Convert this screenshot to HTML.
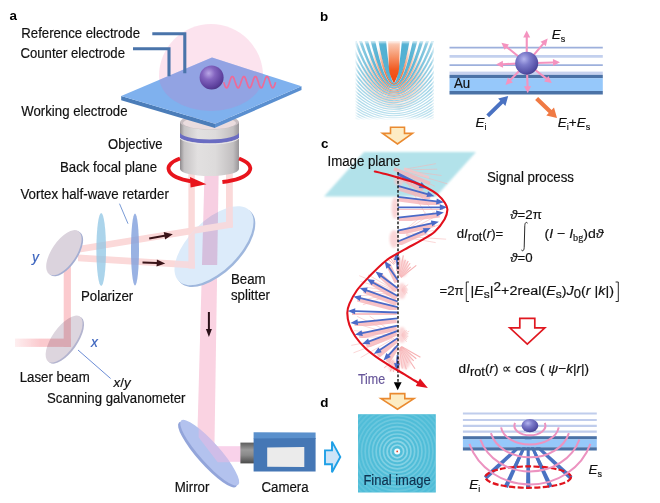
<!DOCTYPE html>
<html><head><meta charset="utf-8"><title>Figure</title>
<style>html,body{margin:0;padding:0;background:#fff;overflow:hidden}svg{display:block}
text{font-family:"Liberation Sans",sans-serif;font-size:13.8px;fill:#111;stroke:#111;stroke-width:0.18px}
.eq{font-size:13.25px}.i{font-style:italic}.b{font-weight:bold;font-size:13.4px;fill:#000;stroke:none}
.mul{mix-blend-mode:multiply}
</style></head><body>
<svg width="660" height="503" viewBox="0 0 660 503">
<defs>
<radialGradient id="sph" cx="0.38" cy="0.32" r="0.75">
<stop offset="0" stop-color="#b9a6e6"/><stop offset="0.35" stop-color="#8465c0"/><stop offset="0.8" stop-color="#5c3f9c"/><stop offset="1" stop-color="#46307c"/></radialGradient>
<radialGradient id="sph2" cx="0.38" cy="0.32" r="0.75">
<stop offset="0" stop-color="#b4b4ee"/><stop offset="0.35" stop-color="#7d7ccb"/><stop offset="0.8" stop-color="#5450a6"/><stop offset="1" stop-color="#3d3a86"/></radialGradient>
<linearGradient id="cyl" x1="0" x2="1" y1="0" y2="0">
<stop offset="0" stop-color="#8e8b8e"/><stop offset="0.07" stop-color="#c6c3c4"/><stop offset="0.3" stop-color="#e2e0e0"/><stop offset="0.6" stop-color="#dddbdb"/><stop offset="0.9" stop-color="#c2bfc0"/><stop offset="1" stop-color="#989598"/></linearGradient>
<linearGradient id="cyltop" x1="0" x2="1" y1="0" y2="0">
<stop offset="0" stop-color="#b5a9ad"/><stop offset="0.3" stop-color="#e6d8da"/><stop offset="0.7" stop-color="#e2d2d5"/><stop offset="1" stop-color="#b0a4a8"/></linearGradient>
<linearGradient id="lens" x1="0" x2="0" y1="0" y2="1">
<stop offset="0" stop-color="#5d5d5d"/><stop offset="0.35" stop-color="#9a9a9a"/><stop offset="0.6" stop-color="#8a8a8a"/><stop offset="1" stop-color="#4a4a4a"/></linearGradient>
<linearGradient id="laser" x1="0" x2="1" y1="0" y2="0">
<stop offset="0" stop-color="#fbcace" stop-opacity="0.3"/><stop offset="0.45" stop-color="#fbcace" stop-opacity="1"/></linearGradient>
<filter id="bl05" x="-5%" y="-5%" width="110%" height="110%"><feGaussianBlur stdDeviation="0.55"/></filter>
<filter id="bl07" x="-5%" y="-5%" width="110%" height="110%"><feGaussianBlur stdDeviation="0.7"/></filter>
<filter id="bl1" x="-10%" y="-10%" width="120%" height="120%"><feGaussianBlur stdDeviation="1.1"/></filter>
<filter id="bl2" x="-10%" y="-10%" width="120%" height="120%"><feGaussianBlur stdDeviation="2"/></filter>

<radialGradient id="mCy" gradientUnits="userSpaceOnUse" cx="0" cy="0" r="1" gradientTransform="translate(394,60) scale(36,52)">
<stop offset="0" stop-color="#fff" stop-opacity="1"/><stop offset="0.45" stop-color="#fff" stop-opacity="0.85"/><stop offset="1" stop-color="#fff" stop-opacity="0"/></radialGradient>
<linearGradient id="mCyL" gradientUnits="userSpaceOnUse" x1="0" y1="41" x2="0" y2="119">
<stop offset="0" stop-color="#000" stop-opacity="0"/><stop offset="0.5" stop-color="#000" stop-opacity="0.05"/><stop offset="0.75" stop-color="#000" stop-opacity="0.25"/><stop offset="1" stop-color="#000" stop-opacity="0.4"/></linearGradient>
<radialGradient id="mOr" gradientUnits="userSpaceOnUse" cx="394" cy="82.4" r="34" gradientTransform="translate(0,-5)">
<stop offset="0" stop-color="#fff"/><stop offset="0.3" stop-color="#bbb"/><stop offset="1" stop-color="#000"/></radialGradient>
<mask id="maskCy" maskUnits="userSpaceOnUse" x="350" y="36" width="90" height="90"><rect x="350" y="36" width="90" height="90" fill="#959595"/><rect x="350" y="36" width="90" height="90" fill="url(#mCy)"/><rect x="350" y="36" width="90" height="90" fill="url(#mCyL)"/></mask>
<mask id="maskOr" maskUnits="userSpaceOnUse" x="350" y="36" width="90" height="90"><rect x="350" y="36" width="90" height="90" fill="url(#mOr)"/></mask>
<clipPath id="clipB"><rect x="355.8" y="41.2" width="78.2" height="78"/></clipPath>
<linearGradient id="streak" gradientUnits="userSpaceOnUse" x1="0" y1="0" x2="0" y2="-41">
<stop offset="0" stop-color="#f0480f"/><stop offset="0.3" stop-color="#f2581f"/><stop offset="0.65" stop-color="#f6966c"/><stop offset="1" stop-color="#fbd3c2"/></linearGradient>
<radialGradient id="ringfade" gradientUnits="userSpaceOnUse" cx="397.2" cy="451.4" r="46">
<stop offset="0" stop-color="#fff"/><stop offset="0.25" stop-color="#aaa"/><stop offset="0.6" stop-color="#666"/><stop offset="1" stop-color="#333"/></radialGradient>
<mask id="maskRing" maskUnits="userSpaceOnUse" x="350" y="405" width="95" height="95"><rect x="350" y="405" width="95" height="95" fill="url(#ringfade)"/></mask>
<clipPath id="clipD"><rect x="358" y="414.2" width="77.8" height="78.3"/></clipPath>

</defs>
<rect width="660" height="503" fill="#fff"/>
<g id="panelA">
<g transform="rotate(-55 64.1 339.1)"><ellipse cx="64.1" cy="340.9" rx="27.5" ry="11.8" fill="#b3b4cf"/><ellipse cx="64.1" cy="339.1" rx="27.5" ry="11.8" fill="#ddd5de"/></g>
<g class="mul">
<rect x="15" y="338.6" width="55.9" height="8.3" fill="url(#laser)"/>
<rect x="63.7" y="262" width="7.2" height="84.9" fill="#fbcace"/>
<polygon points="78,245.9 232.8,220.7 232.8,227.5 78,252.7" fill="#fbd9d9"/>
<polygon points="78,254.5 195,261.8 195,268.6 78,261.3" fill="#fbd9d9"/>
<rect x="188.4" y="170" width="6.4" height="98.6" fill="#fbd9d9"/>
<rect x="226" y="170" width="6.8" height="57.5" fill="#fbd9d9"/>
</g>
<polygon points="202.1,262 217.3,262 214.3,456 196.8,456" fill="#fad3e2"/>
<g transform="rotate(-45 214 245.7)"><ellipse cx="214" cy="248.2" rx="50" ry="25" fill="#9fb7dd"/><ellipse cx="214" cy="245.7" rx="50" ry="25" fill="#dcebfa"/></g>
<g class="mul">
<polygon points="204.6,170 218.7,170 217.2,265 202.0,265" fill="#f7cfe2"/>
<polygon points="150,233 233,220.8 233,227.6 150,239.8" fill="#fbd9d9" opacity="0.0"/>
</g>
<clipPath id="clipSpl"><ellipse cx="214" cy="245.7" rx="50" ry="25" transform="rotate(-45 214 245.7)"/></clipPath>
<g clip-path="url(#clipSpl)"><g class="mul">
<polygon points="78,245.9 232.8,220.7 232.8,227.5 78,252.7" fill="#f6dade"/>
<polygon points="78,254.5 195,261.8 195,268.6 78,261.3" fill="#f6dade"/>
<rect x="188.4" y="170" width="6.4" height="98.6" fill="#f6dade"/>
<rect x="226" y="170" width="6.8" height="57.5" fill="#f6dade"/>
</g></g>
<g transform="rotate(-56 63.9 252.7)"><ellipse cx="63.9" cy="254.5" rx="26" ry="12.2" fill="#a4aed2"/><ellipse cx="63.9" cy="252.7" rx="26" ry="12.2" fill="#dbd3dd"/></g>
<ellipse cx="101.2" cy="249.5" rx="4.8" ry="36.5" fill="#8fc5e4" opacity="0.75"/>
<ellipse cx="135" cy="249.5" rx="4" ry="36" fill="#7f9fdc" opacity="0.8"/>
<line x1="119.5" y1="203.7" x2="128" y2="223.7" stroke="#6a8ed0" stroke-width="0.9"/>
<line x1="78" y1="350" x2="110.6" y2="378.5" stroke="#5a7fd0" stroke-width="0.9"/>
<polygon points="149.4,239.6 164.6,236.7 165.1,239.5 172.8,234.2 163.7,232.0 164.3,234.8 149.0,237.6" fill="#3a1418" />
<polygon points="142.5,263.4 156.7,264.0 156.5,266.6 165.2,263.4 156.9,259.4 156.8,262.0 142.5,261.4" fill="#3a1418" />
<polygon points="207.9,312.0 207.9,329.0 205.9,329.0 208.9,337.0 211.9,329.0 209.9,329.0 209.9,312.0" fill="#2a1018" />
<path d="M180,122 L180,169 A29.5,7 0 0 0 239,169 L239,122 Z" fill="url(#cyl)"/>
<ellipse cx="209.5" cy="122" rx="29.5" ry="7.5" fill="#c9bfc2"/>
<ellipse cx="209.5" cy="123" rx="26.5" ry="6.2" fill="#eadcde"/>
<clipPath id="clipCyl"><rect x="180" y="110" width="59" height="70"/></clipPath>
<path clip-path="url(#clipCyl)" d="M179,133.6 A30.5,7.8 0 0 0 240,133.6" fill="none" stroke="#6a6cc2" stroke-width="3.8"/>
<path clip-path="url(#clipCyl)" d="M179,136.4 A30.5,7.8 0 0 0 240,136.4" fill="none" stroke="#e9e6ea" stroke-width="1"/>
<path d="M180,158.5 A40.5,14.3 0 0 0 191,181.3" fill="none" stroke="#e8141c" stroke-width="3.8"/>
<polygon points="190,177 206.4,184.3 190.6,187.6" fill="#e8141c"/>
<path d="M239,158.5 A40.5,14.3 0 0 1 222.4,182" fill="none" stroke="#e8141c" stroke-width="3.8"/>
<path d="M159,76 A52,52 0 0 1 263,76 A52,35 0 0 1 159,76 Z" fill="#f7bcd6" opacity="0.42"/>
<polygon points="121.2,96 215,123.7 215,127.9 121.2,100.3" fill="#4b7db9"/>
<polygon points="301.5,86.3 215,123.7 215,127.7 301.5,90.1" fill="#5a8fd0"/>
<polygon points="121.2,96 212,57.5 301.5,86.3 215,123.7" fill="#7fb1ee"/>
<clipPath id="clipPlate"><polygon points="121.2,96 212,57.5 301.5,86.3 215,123.7"/></clipPath>
<path clip-path="url(#clipPlate)" d="M159,76 A52,52 0 0 1 263,76 A52,35 0 0 1 159,76 Z" fill="#b48ad0" opacity="0.36"/>
<polyline points="152.3,33.8 184.8,33.8 184.8,73.3" fill="none" stroke="#4a74aa" stroke-width="3.1"/>
<polyline points="133,48.8 169,48.8 169,76.2" fill="none" stroke="#4a74aa" stroke-width="3.1"/>
<circle cx="211.6" cy="77.6" r="12" fill="url(#sph)"/>
<polyline points="223.7,82.2 224.0,83.0 224.2,83.8 224.5,84.5 224.7,85.3 225.0,85.9 225.3,86.5 225.5,87.0 225.8,87.4 226.0,87.6 226.3,87.8 226.6,87.9 226.8,87.9 227.1,87.7 227.3,87.4 227.6,87.1 227.9,86.6 228.1,86.0 228.4,85.4 228.6,84.7 228.9,84.0 229.1,83.2 229.4,82.4 229.7,81.6 229.9,80.8 230.2,80.0 230.4,79.3 230.7,78.6 231.0,78.0 231.2,77.5 231.5,77.1 231.7,76.8 232.0,76.6 232.3,76.5 232.5,76.5 232.8,76.7 233.0,76.9 233.3,77.2 233.6,77.7 233.8,78.2 234.1,78.8 234.3,79.5 234.6,80.3 234.9,81.0 235.1,81.8 235.4,82.6 235.6,83.4 235.9,84.2 236.2,84.9 236.4,85.6 236.7,86.2 236.9,86.8 237.2,87.2 237.5,87.5 237.7,87.8 238.0,87.9 238.2,87.9 238.5,87.8 238.8,87.6 239.0,87.2 239.3,86.8 239.5,86.3 239.8,85.7 240.0,85.0 240.3,84.3 240.6,83.5 240.8,82.7 241.1,81.9 241.3,81.1 241.6,80.4 241.9,79.6 242.1,78.9 242.4,78.3 242.6,77.8 242.9,77.3 243.2,76.9 243.4,76.7 243.7,76.5 243.9,76.5 244.2,76.6 244.5,76.8 244.7,77.1 245.0,77.5 245.2,78.0 245.5,78.6 245.8,79.2 246.0,79.9 246.3,80.7 246.5,81.5 246.8,82.3 247.1,83.1 247.3,83.9 247.6,84.6 247.8,85.3 248.1,86.0 248.4,86.5 248.6,87.0 248.9,87.4 249.1,87.7 249.4,87.8 249.7,87.9 249.9,87.8 250.2,87.7 250.4,87.4 250.7,87.0 250.9,86.5 251.2,86.0 251.5,85.3 251.7,84.6 252.0,83.9 252.2,83.1 252.5,82.3 252.8,81.5 253.0,80.7 253.3,79.9 253.5,79.2 253.8,78.6 254.1,78.0 254.3,77.5 254.6,77.1 254.8,76.8 255.1,76.6 255.4,76.5 255.6,76.5 255.9,76.7 256.1,76.9 256.4,77.3 256.7,77.8 256.9,78.3 257.2,78.9 257.4,79.6 257.7,80.4 258.0,81.1 258.2,81.9 258.5,82.7 258.7,83.5 259.0,84.3 259.3,85.0 259.5,85.7 259.8,86.3 260.0,86.8 260.3,87.2 260.5,87.6 260.8,87.8 261.1,87.9 261.3,87.9 261.6,87.8 261.8,87.5 262.1,87.2 262.4,86.8 262.6,86.2 262.9,85.6 263.1,84.9 263.4,84.2 263.7,83.4 263.9,82.6 264.2,81.8 264.4,81.0 264.7,80.3 265.0,79.5 265.2,78.8 265.5,78.2 265.7,77.7 266.0,77.2 266.3,76.9 266.5,76.7 266.8,76.5 267.0,76.5 267.3,76.6 267.6,76.8 267.8,77.1 268.1,77.5 268.3,78.0 268.6,78.6 268.9,79.3 269.1,80.0 269.4,80.8 269.6,81.6 269.9,82.4 270.2,83.2 270.4,84.0 270.7,84.7 270.9,85.4 271.2,86.0 271.4,86.6 271.7,87.1 272.0,87.4 272.2,87.7 272.5,87.9 272.7,87.9 273.0,87.8 273.3,87.6 273.5,87.4 273.8,87.0 274.0,86.5 274.3,85.9 274.6,85.3 274.8,84.5 275.1,83.8 275.3,83.0 275.6,82.2" fill="none" stroke="#ee6a98" stroke-width="1.7" stroke-linejoin="round"/>
<rect x="212" y="446.2" width="29" height="15.6" fill="#f9d2ea"/>
<g transform="rotate(48.4 209.7 452.7)"><ellipse cx="209.7" cy="455.6" rx="43" ry="10" fill="#93a5da"/><ellipse cx="209.7" cy="452.7" rx="43" ry="10" fill="#b3c2ee"/></g>
<clipPath id="clipMir"><ellipse cx="209.7" cy="452.7" rx="43" ry="10" transform="rotate(48.4 209.7 452.7)"/></clipPath>
<g clip-path="url(#clipMir)"><polygon points="198.6,410 215.3,410 215.3,445.6 245,445.6 245,462.3 217.7,462.3 198.6,437.3" fill="#f2b8e0" opacity="0.45"/></g>
<rect x="240.4" y="442.6" width="14" height="20.8" fill="url(#lens)"/>
<polygon points="253.6,439 315.6,439 315.6,432.6 253.6,432.3" fill="#5a90cc"/>
<polygon points="253.6,438.6 315.6,437.9 315.6,471.4 253.6,471.4" fill="#4577b5"/>
<polygon points="267.2,447.4 304.3,447 304.3,467 267.2,466.8" fill="#ebebeb"/>
<polygon points="325,450.4 332,450.4 332,441.6 340.3,456.9 332,472.2 332,464.2 325,464.2" fill="#cfe4f7" stroke="#1fa0e6" stroke-width="1.9" stroke-linejoin="miter"/>
<text x="9.5" y="19.5" class="b" >a</text>
<text x="21.3" y="37.5" textLength="118.7" lengthAdjust="spacingAndGlyphs" >Reference electrode</text>
<text x="20.5" y="57.5" textLength="104.5" lengthAdjust="spacingAndGlyphs" >Counter electrode</text>
<text x="21.3" y="116.3" textLength="106.2" lengthAdjust="spacingAndGlyphs" >Working electrode</text>
<text x="108" y="148.8" textLength="54.5" lengthAdjust="spacingAndGlyphs" >Objective</text>
<text x="60" y="172" textLength="97" lengthAdjust="spacingAndGlyphs" >Back focal plane</text>
<text x="20.5" y="199.3" textLength="148.3" lengthAdjust="spacingAndGlyphs" >Vortex half-wave retarder</text>
<text x="32" y="262" class="i" style="fill:#3c64be;stroke:#3c64be">y</text>
<text x="81" y="300.6" textLength="52.3" lengthAdjust="spacingAndGlyphs" >Polarizer</text>
<text x="231" y="283.8" textLength="34.6" lengthAdjust="spacingAndGlyphs" >Beam</text>
<text x="231" y="300" textLength="39" lengthAdjust="spacingAndGlyphs" >splitter</text>
<text x="91" y="347" class="i" style="fill:#3c64be;stroke:#3c64be">x</text>
<text x="19.7" y="381.5" textLength="70" lengthAdjust="spacingAndGlyphs" >Laser beam</text>
<text x="113.6" y="386.7" class="eq" ><tspan class="i">x</tspan>/<tspan class="i">y</tspan></text>
<text x="47" y="402.7" textLength="138.5" lengthAdjust="spacingAndGlyphs" >Scanning galvanometer</text>
<text x="174.8" y="492" textLength="34.6" lengthAdjust="spacingAndGlyphs" >Mirror</text>
<text x="261.5" y="492" textLength="47.1" lengthAdjust="spacingAndGlyphs" >Camera</text>
</g>
<g id="panelB">
<text x="320" y="21" class="b" >b</text>
<g clip-path="url(#clipB)"><g filter="url(#bl07)">
<rect x="350" y="36" width="90" height="90" fill="#fff"/>
<g mask="url(#maskCy)"><path transform="translate(394,82.4) scale(0.87,1)" d="M-60.0,-1819.5 Q0,1820.5 60.0,-1819.5 L60.0,-484.9 Q0,488.6 -60.0,-484.9 Z M-60.0,-337.7 Q0,343.0 60.0,-337.7 L60.0,-221.1 Q0,229.1 -60.0,-221.1 Z M-60.0,-182.9 Q0,192.5 60.0,-182.9 L60.0,-142.4 Q0,154.5 -60.0,-142.4 Z M-60.0,-121.8 Q0,135.8 60.0,-121.8 L60.0,-101.4 Q0,117.8 -60.0,-101.4 Z M-60.0,-89.4 Q0,107.6 60.0,-89.4 L60.0,-76.5 Q0,97.2 -60.0,-76.5 Z M-60.0,-68.4 Q0,91.0 60.0,-68.4 L60.0,-60.0 Q0,84.8 -60.0,-60.0 Z M-60.0,-53.5 Q0,80.4 60.0,-53.5 L60.0,-47.2 Q0,76.3 -60.0,-47.2 Z M-60.0,-42.2 Q0,73.3 60.0,-42.2 L60.0,-37.1 Q0,70.5 -60.0,-37.1 Z M-60.0,-33.0 Q0,68.5 60.0,-33.0 L60.0,-28.8 Q0,66.6 -60.0,-28.8 Z M-60.0,-25.4 Q0,65.1 60.0,-25.4 L60.0,-21.8 Q0,63.8 -60.0,-21.8 Z M-60.0,-18.8 Q0,62.9 60.0,-18.8 L60.0,-15.7 Q0,62.0 -60.0,-15.7 Z M-60.0,-13.0 Q0,61.4 60.0,-13.0 L60.0,-10.2 Q0,60.9 -60.0,-10.2 Z M-60.0,-7.8 Q0,60.5 60.0,-7.8 L60.0,-5.3 Q0,60.2 -60.0,-5.3 Z M-60.0,-3.1 Q0,60.1 60.0,-3.1 L60.0,-0.8 Q0,60.0 -60.0,-0.8 Z M-60.0,1.3 Q0,60.0 60.0,1.3 L60.0,3.5 Q0,60.1 -60.0,3.5 Z M-60.0,5.3 Q0,60.2 60.0,5.3 L60.0,7.4 Q0,60.5 -60.0,7.4 Z M-60.0,9.2 Q0,60.7 60.0,9.2 L60.0,11.1 Q0,61.0 -60.0,11.1 Z M-60.0,12.8 Q0,61.4 60.0,12.8 L60.0,14.7 Q0,61.8 -60.0,14.7 Z M-60.0,16.3 Q0,62.2 60.0,16.3 L60.0,18.1 Q0,62.7 -60.0,18.1 Z M-60.0,19.6 Q0,63.1 60.0,19.6 L60.0,21.4 Q0,63.7 -60.0,21.4 Z M-60.0,22.9 Q0,64.2 60.0,22.9 L60.0,24.5 Q0,64.8 -60.0,24.5 Z M-60.0,26.0 Q0,65.4 60.0,26.0 L60.0,27.6 Q0,66.0 -60.0,27.6 Z M-60.0,29.0 Q0,66.7 60.0,29.0 L60.0,30.6 Q0,67.4 -60.0,30.6 Z M-60.0,32.0 Q0,68.0 60.0,32.0 L60.0,33.5 Q0,68.7 -60.0,33.5 Z M-60.0,34.9 Q0,69.4 60.0,34.9 L60.0,36.4 Q0,70.2 -60.0,36.4 Z M-60.0,37.7 Q0,70.9 60.0,37.7 L60.0,39.2 Q0,71.7 -60.0,39.2 Z M-60.0,40.5 Q0,72.4 60.0,40.5 L60.0,41.9 Q0,73.2 -60.0,41.9 Z M-60.0,43.2 Q0,73.9 60.0,43.2 L60.0,44.7 Q0,74.8 -60.0,44.7 Z M-60.0,45.9 Q0,75.6 60.0,45.9 L60.0,47.3 Q0,76.4 -60.0,47.3 Z M-60.0,48.6 Q0,77.2 60.0,48.6 L60.0,50.0 Q0,78.1 -60.0,50.0 Z M-60.0,51.2 Q0,78.9 60.0,51.2 L60.0,52.6 Q0,79.8 -60.0,52.6 Z M-60.0,53.8 Q0,80.6 60.0,53.8 L60.0,55.2 Q0,81.5 -60.0,55.2 Z M-60.0,56.4 Q0,82.3 60.0,56.4 L60.0,57.7 Q0,83.2 -60.0,57.7 Z M-60.0,58.9 Q0,84.1 60.0,58.9 L60.0,60.2 Q0,85.0 -60.0,60.2 Z M-60.0,61.4 Q0,85.9 60.0,61.4 L60.0,62.7 Q0,86.8 -60.0,62.7 Z M-60.0,63.9 Q0,87.7 60.0,63.9 L60.0,65.2 Q0,88.6 -60.0,65.2 Z M-60.0,66.4 Q0,89.5 60.0,66.4 L60.0,67.7 Q0,90.5 -60.0,67.7 Z M-60.0,68.8 Q0,91.3 60.0,68.8 L60.0,70.1 Q0,92.3 -60.0,70.1 Z M-60.0,71.3 Q0,93.2 60.0,71.3 L60.0,72.6 Q0,94.2 -60.0,72.6 Z M-60.0,73.7 Q0,95.1 60.0,73.7 L60.0,75.0 Q0,96.0 -60.0,75.0 Z" fill="#48acd0"/></g>
<g mask="url(#maskOr)"><path transform="translate(394,82.4) scale(0.87,1)" d="M-60.0,-496.5 Q0,500.1 60.0,-496.5 L60.0,-355.3 Q0,360.3 -60.0,-355.3 Z M-60.0,-223.5 Q0,231.5 60.0,-223.5 L60.0,-188.2 Q0,197.6 -60.0,-188.2 Z M-60.0,-141.3 Q0,153.5 60.0,-141.3 L60.0,-125.2 Q0,138.9 -60.0,-125.2 Z M-60.0,-100.8 Q0,117.3 60.0,-100.8 L60.0,-91.4 Q0,109.4 -60.0,-91.4 Z M-60.0,-76.1 Q0,96.9 60.0,-76.1 L60.0,-69.9 Q0,92.1 -60.0,-69.9 Z M-60.0,-59.1 Q0,84.2 60.0,-59.1 L60.0,-54.6 Q0,81.1 -60.0,-54.6 Z M-60.0,-46.5 Q0,75.9 60.0,-46.5 L60.0,-43.0 Q0,73.8 -60.0,-43.0 Z M-60.0,-36.5 Q0,70.2 60.0,-36.5 L60.0,-33.7 Q0,68.8 -60.0,-33.7 Z M-60.0,-28.3 Q0,66.4 60.0,-28.3 L60.0,-25.9 Q0,65.4 -60.0,-25.9 Z M-60.0,-21.4 Q0,63.7 60.0,-21.4 L60.0,-19.3 Q0,63.0 -60.0,-19.3 Z M-60.0,-15.3 Q0,61.9 60.0,-15.3 L60.0,-13.5 Q0,61.5 -60.0,-13.5 Z M-60.0,-9.9 Q0,60.8 60.0,-9.9 L60.0,-8.2 Q0,60.6 -60.0,-8.2 Z M-60.0,-5.0 Q0,60.2 60.0,-5.0 L60.0,-3.5 Q0,60.1 -60.0,-3.5 Z" fill="#ee5616"/></g>
<path transform="translate(394,82.4)" d="M0,0.8 C-2.2,-3.5 -5,-8.5 -5.2,-16 L-5.9,-42 L5.9,-42 L5.2,-16 C5,-8.5 2.2,-3.5 0,0.8 Z" fill="url(#streak)"/>
</g>
<rect x="355.8" y="41.2" width="78.2" height="78" fill="none" stroke="#fff" stroke-width="2.5" filter="url(#bl1)" opacity="0.9"/>
</g>
<polygon points="390.5,127.2 404.5,127.2 404.5,133.4 412.5,133.4 397.5,144 382.5,133.4 390.5,133.4" fill="#fdecc4" stroke="#ea8a30" stroke-width="1.6" stroke-linejoin="miter"/>
<line x1="449.5" x2="602.8" y1="47.6" y2="47.6" stroke="#9db0dc" stroke-width="1.7"/>
<line x1="449.5" x2="602.8" y1="56.4" y2="56.4" stroke="#c3d0ee" stroke-width="2.6"/>
<line x1="449.5" x2="602.8" y1="65.1" y2="65.1" stroke="#9db0dc" stroke-width="1.8"/>
<rect x="449.5" y="71.6" width="153.3" height="3.4" fill="#c6d1ee"/>
<rect x="449.5" y="74.9" width="153.3" height="3.4" fill="#4b72a6"/>
<rect x="449.5" y="78.2" width="153.3" height="12.9" fill="#96c8fa"/>
<rect x="449.5" y="91" width="153.3" height="3.5" fill="#4b72a6"/>
<polygon points="527.8,54.2 527.8,37.5 530.2,37.5 526.7,30.5 523.2,37.5 525.7,37.5 525.7,54.2" fill="#f493bf" />
<polygon points="533.3,57.0 544.0,44.6 545.8,46.2 547.7,38.6 540.5,41.7 542.4,43.2 531.7,55.7" fill="#f493bf" />
<polygon points="535.7,64.0 553.0,63.5 553.1,65.9 560.0,62.2 552.9,58.9 553.0,61.4 535.7,61.9" fill="#f493bf" />
<polygon points="533.1,69.6 545.7,79.5 544.1,81.4 551.8,83.0 548.5,75.9 547.0,77.8 534.4,67.9" fill="#f493bf" />
<polygon points="526.0,72.2 526.5,86.2 524.0,86.3 527.8,93.2 531.0,86.1 528.6,86.2 528.1,72.2" fill="#f493bf" />
<polygon points="519.7,68.9 509.6,79.2 507.9,77.5 505.5,85.0 512.9,82.4 511.1,80.7 521.2,70.4" fill="#f493bf" />
<polygon points="517.7,62.5 502.9,63.2 502.8,60.7 496.0,64.5 503.1,67.7 503.0,65.3 517.8,64.6" fill="#f493bf" />
<polygon points="520.4,56.7 507.5,46.3 509.0,44.4 501.4,42.7 504.6,49.8 506.2,47.9 519.0,58.3" fill="#f493bf" />
<circle cx="526.7" cy="63.2" r="11.5" fill="url(#sph2)"/>
<polygon points="489.1,117.2 503.1,103.6 505.4,105.9 508.2,95.9 498.1,98.4 500.3,100.7 486.3,114.4" fill="#4a72c2" />
<polygon points="535.1,99.9 548.7,112.9 546.3,115.4 557.0,118.0 554.0,107.5 551.6,109.9 538.1,96.9" fill="#f07a44" />
<text x="454" y="88.3" textLength="16.2" lengthAdjust="spacingAndGlyphs" >Au</text>
<text x="551.8" y="38.6" style="font-size:13.5px"><tspan class="i">E</tspan><tspan dy="3" style="font-size:9px">s</tspan></text>
<text x="475.5" y="127.3" style="font-size:13.5px"><tspan class="i">E</tspan><tspan dy="3" style="font-size:9px">i</tspan></text>
<text x="557.8" y="126.8" style="font-size:13.5px"><tspan class="i">E</tspan><tspan dy="3" style="font-size:9px">i</tspan><tspan dy="-3">+</tspan><tspan class="i">E</tspan><tspan dy="3" style="font-size:9px">s</tspan></text>
</g>
<g id="panelC">
<text x="321" y="147.8" class="b" >c</text>
<polygon points="364,152 476,152 436,196.5 324,196.5" fill="#b2e2ea" filter="url(#bl1)"/>
<text x="327.5" y="166" textLength="72.9" lengthAdjust="spacingAndGlyphs" >Image plane</text>
<g opacity="0.9">
<line x1="405.3" y1="169.1" x2="435.8" y2="163.7" stroke="#f6b4b4" stroke-width="0.6"/>
<line x1="405.7" y1="169.9" x2="437.3" y2="169.2" stroke="#f6b4b4" stroke-width="0.6"/>
<line x1="404.9" y1="170.6" x2="441.5" y2="175.5" stroke="#f6b4b4" stroke-width="0.6"/>
<line x1="406.7" y1="172.0" x2="447.3" y2="183.8" stroke="#f6b4b4" stroke-width="0.6"/>
<line x1="406.0" y1="172.8" x2="435.0" y2="186.3" stroke="#f6b4b4" stroke-width="0.6"/>
<line x1="405.1" y1="173.4" x2="432.9" y2="192.0" stroke="#f6b4b4" stroke-width="0.6"/>
<line x1="403.8" y1="173.5" x2="426.9" y2="194.6" stroke="#f6b4b4" stroke-width="0.6"/>
<line x1="403.3" y1="174.1" x2="432.3" y2="210.2" stroke="#f6b4b4" stroke-width="0.6"/>
<line x1="403.4" y1="175.9" x2="424.7" y2="212.7" stroke="#f6b4b4" stroke-width="0.6"/>
<line x1="404.9" y1="230.2" x2="425.9" y2="212.6" stroke="#f6b4b4" stroke-width="0.6"/>
<line x1="404.1" y1="231.9" x2="434.6" y2="211.5" stroke="#f6b4b4" stroke-width="0.6"/>
<line x1="405.8" y1="232.0" x2="440.6" y2="213.8" stroke="#f6b4b4" stroke-width="0.6"/>
<line x1="406.6" y1="232.7" x2="430.2" y2="223.5" stroke="#f6b4b4" stroke-width="0.6"/>
<line x1="406.1" y1="233.8" x2="441.3" y2="224.4" stroke="#f6b4b4" stroke-width="0.6"/>
<line x1="405.9" y1="234.8" x2="433.7" y2="230.5" stroke="#f6b4b4" stroke-width="0.6"/>
<line x1="405.9" y1="235.7" x2="432.5" y2="234.5" stroke="#f6b4b4" stroke-width="0.6"/>
<line x1="407.4" y1="236.6" x2="446.1" y2="239.2" stroke="#f6b4b4" stroke-width="0.6"/>
<line x1="406.0" y1="237.4" x2="435.7" y2="242.6" stroke="#f6b4b4" stroke-width="0.6"/>
<line x1="399.1" y1="275.5" x2="399.8" y2="257.5" stroke="#f5a9ab" stroke-width="1.1"/>
<line x1="399.6" y1="275.6" x2="403.3" y2="255.4" stroke="#f5a9ab" stroke-width="1.1"/>
<line x1="400.0" y1="276.1" x2="405.4" y2="259.9" stroke="#f5a9ab" stroke-width="1.1"/>
<line x1="400.4" y1="276.2" x2="408.2" y2="260.9" stroke="#f5a9ab" stroke-width="1.1"/>
<line x1="400.5" y1="276.9" x2="410.1" y2="263.3" stroke="#f5a9ab" stroke-width="1.1"/>
<line x1="401.3" y1="276.6" x2="410.7" y2="266.8" stroke="#f5a9ab" stroke-width="1.1"/>
<line x1="400.9" y1="277.5" x2="416.3" y2="265.4" stroke="#f5a9ab" stroke-width="1.1"/>
<line x1="394.2" y1="264.7" x2="386.7" y2="258.3" stroke="#f5a9ab" stroke-width="1"/>
<line x1="394.6" y1="263.8" x2="389.6" y2="257.0" stroke="#f5a9ab" stroke-width="1"/>
<line x1="395.1" y1="262.6" x2="392.4" y2="256.4" stroke="#f5a9ab" stroke-width="1"/>
<line x1="396.3" y1="263.2" x2="395.0" y2="255.5" stroke="#f5a9ab" stroke-width="1"/>
<line x1="393.4" y1="289.4" x2="368.2" y2="274.8" stroke="#f6b4b4" stroke-width="0.6"/>
<line x1="393.7" y1="290.2" x2="359.3" y2="275.7" stroke="#f6b4b4" stroke-width="0.6"/>
<line x1="393.5" y1="290.7" x2="360.5" y2="281.5" stroke="#f6b4b4" stroke-width="0.6"/>
<line x1="392.3" y1="291.1" x2="366.7" y2="287.3" stroke="#f6b4b4" stroke-width="0.6"/>
<line x1="393.9" y1="291.9" x2="364.3" y2="291.2" stroke="#f6b4b4" stroke-width="0.6"/>
<line x1="392.5" y1="292.6" x2="358.4" y2="296.0" stroke="#f6b4b4" stroke-width="0.6"/>
<line x1="393.6" y1="293.0" x2="363.6" y2="299.9" stroke="#f6b4b4" stroke-width="0.6"/>
<line x1="393.9" y1="293.5" x2="362.9" y2="304.8" stroke="#f6b4b4" stroke-width="0.6"/>
<line x1="394.5" y1="338.0" x2="360.6" y2="357.6" stroke="#f6b4b4" stroke-width="0.6"/>
<line x1="392.6" y1="338.0" x2="353.5" y2="352.8" stroke="#f6b4b4" stroke-width="0.6"/>
<line x1="392.6" y1="337.1" x2="351.3" y2="345.4" stroke="#f6b4b4" stroke-width="0.6"/>
<line x1="394.0" y1="336.2" x2="361.7" y2="337.4" stroke="#f6b4b4" stroke-width="0.6"/>
<line x1="392.1" y1="335.3" x2="353.8" y2="330.5" stroke="#f6b4b4" stroke-width="0.6"/>
<line x1="393.4" y1="334.6" x2="352.6" y2="322.6" stroke="#f6b4b4" stroke-width="0.6"/>
<line x1="393.3" y1="333.7" x2="357.2" y2="316.4" stroke="#f6b4b4" stroke-width="0.6"/>
<line x1="394.2" y1="333.4" x2="369.6" y2="316.1" stroke="#f6b4b4" stroke-width="0.6"/>
<line x1="401.6" y1="289.3" x2="405.1" y2="285.1" stroke="#f6b4b4" stroke-width="0.6"/>
<line x1="401.8" y1="289.4" x2="408.2" y2="284.5" stroke="#f6b4b4" stroke-width="0.6"/>
<line x1="401.8" y1="289.6" x2="406.5" y2="287.5" stroke="#f6b4b4" stroke-width="0.6"/>
<line x1="401.8" y1="289.8" x2="407.4" y2="288.6" stroke="#f6b4b4" stroke-width="0.6"/>
<line x1="402.1" y1="290.0" x2="408.2" y2="290.0" stroke="#f6b4b4" stroke-width="0.6"/>
<line x1="401.9" y1="290.2" x2="407.2" y2="291.4" stroke="#f6b4b4" stroke-width="0.6"/>
<line x1="402.1" y1="290.5" x2="407.7" y2="293.1" stroke="#f6b4b4" stroke-width="0.6"/>
<line x1="401.7" y1="290.5" x2="405.9" y2="293.8" stroke="#f6b4b4" stroke-width="0.6"/>
<line x1="401.5" y1="290.6" x2="405.2" y2="295.0" stroke="#f6b4b4" stroke-width="0.6"/>
<line x1="401.7" y1="334.2" x2="405.2" y2="330.0" stroke="#f6b4b4" stroke-width="0.6"/>
<line x1="401.6" y1="334.5" x2="407.0" y2="330.4" stroke="#f6b4b4" stroke-width="0.6"/>
<line x1="401.8" y1="334.6" x2="409.3" y2="331.1" stroke="#f6b4b4" stroke-width="0.6"/>
<line x1="401.8" y1="334.8" x2="408.5" y2="333.3" stroke="#f6b4b4" stroke-width="0.6"/>
<line x1="402.1" y1="335.0" x2="408.3" y2="335.0" stroke="#f6b4b4" stroke-width="0.6"/>
<line x1="402.2" y1="335.3" x2="408.4" y2="336.6" stroke="#f6b4b4" stroke-width="0.6"/>
<line x1="401.8" y1="335.4" x2="407.6" y2="338.1" stroke="#f6b4b4" stroke-width="0.6"/>
<line x1="401.6" y1="335.5" x2="406.8" y2="339.5" stroke="#f6b4b4" stroke-width="0.6"/>
<line x1="401.6" y1="335.7" x2="406.7" y2="341.8" stroke="#f6b4b4" stroke-width="0.6"/>
<line x1="401.9" y1="346.7" x2="420.4" y2="357.3" stroke="#f5a9ab" stroke-width="1.1"/>
<line x1="400.9" y1="346.5" x2="416.3" y2="358.8" stroke="#f5a9ab" stroke-width="1.1"/>
<line x1="400.8" y1="347.0" x2="413.7" y2="360.9" stroke="#f5a9ab" stroke-width="1.1"/>
<line x1="400.5" y1="347.2" x2="415.0" y2="368.7" stroke="#f5a9ab" stroke-width="1.1"/>
<line x1="400.1" y1="347.3" x2="407.6" y2="363.1" stroke="#f5a9ab" stroke-width="1.1"/>
<line x1="400.0" y1="348.4" x2="406.3" y2="369.3" stroke="#f5a9ab" stroke-width="1.1"/>
<line x1="399.5" y1="348.6" x2="402.3" y2="368.5" stroke="#f5a9ab" stroke-width="1.1"/>
<line x1="395.2" y1="362.6" x2="393.5" y2="371.9" stroke="#f5a9ab" stroke-width="1"/>
<line x1="394.2" y1="362.1" x2="390.2" y2="371.5" stroke="#f5a9ab" stroke-width="1"/>
<line x1="393.6" y1="361.2" x2="389.4" y2="366.8" stroke="#f5a9ab" stroke-width="1"/>
<line x1="393.3" y1="360.3" x2="384.2" y2="367.9" stroke="#f5a9ab" stroke-width="1"/>
</g>
<ellipse cx="395" cy="208" rx="3.5" ry="11" fill="#f9c6c8" opacity="0.7" filter="url(#bl1)"/>
<ellipse cx="394" cy="239" rx="4.5" ry="9" fill="#f9c6c8" opacity="0.7" filter="url(#bl1)"/>
<ellipse cx="403" cy="268" rx="5" ry="9" fill="#f9c6c8" opacity="0.7" filter="url(#bl1)"/>
<ellipse cx="402" cy="291" rx="4" ry="8" fill="#f9c6c8" opacity="0.7" filter="url(#bl1)"/>
<ellipse cx="402" cy="335" rx="4" ry="8" fill="#f9c6c8" opacity="0.7" filter="url(#bl1)"/>
<ellipse cx="405" cy="359" rx="6" ry="10" fill="#f9c6c8" opacity="0.7" filter="url(#bl1)"/>
<ellipse cx="392" cy="365" rx="4" ry="6" fill="#f9c6c8" opacity="0.7" filter="url(#bl1)"/>
<ellipse cx="399" cy="180" rx="5" ry="6" fill="#f9c6c8" opacity="0.7" filter="url(#bl1)"/>
<g filter="url(#bl05)" opacity="0.8"><line x1="394" y1="169" x2="430" y2="183.5" stroke="#f6b6ba" stroke-width="3.6"/><line x1="404" y1="168.5" x2="429" y2="177.5" stroke="#f8c4c6" stroke-width="2.4"/><line x1="392" y1="228" x2="424" y2="243" stroke="#f8c4c6" stroke-width="0"/></g>
<line x1="398.8" y1="176.1" x2="422.7" y2="190.2" stroke="#f7b4b8" stroke-width="5" opacity="0.8" filter="url(#bl05)"/>
<line x1="398.8" y1="188.0" x2="430.2" y2="198.2" stroke="#f7b4b8" stroke-width="5" opacity="0.8" filter="url(#bl05)"/>
<line x1="398.8" y1="199.0" x2="439.6" y2="204.5" stroke="#f7b4b8" stroke-width="5" opacity="0.8" filter="url(#bl05)"/>
<line x1="398.8" y1="209.5" x2="443.0" y2="209.7" stroke="#f7b4b8" stroke-width="5" opacity="0.8" filter="url(#bl05)"/>
<line x1="398.8" y1="219.9" x2="439.6" y2="215.1" stroke="#f7b4b8" stroke-width="5" opacity="0.8" filter="url(#bl05)"/>
<line x1="398.8" y1="232.8" x2="434.6" y2="224.4" stroke="#f7b4b8" stroke-width="5" opacity="0.8" filter="url(#bl05)"/>
<line x1="398.8" y1="243.7" x2="426.6" y2="231.0" stroke="#f7b4b8" stroke-width="5" opacity="0.8" filter="url(#bl05)"/>
<line x1="396.7" y1="271.1" x2="399.3" y2="256.0" stroke="#f7b4b8" stroke-width="5" opacity="0.8" filter="url(#bl05)"/>
<line x1="396.7" y1="282.2" x2="388.2" y2="264.3" stroke="#f7b4b8" stroke-width="5" opacity="0.8" filter="url(#bl05)"/>
<line x1="396.7" y1="290.5" x2="379.4" y2="274.7" stroke="#f7b4b8" stroke-width="5" opacity="0.8" filter="url(#bl05)"/>
<line x1="396.7" y1="298.2" x2="370.8" y2="282.1" stroke="#f7b4b8" stroke-width="5" opacity="0.8" filter="url(#bl05)"/>
<line x1="396.7" y1="303.7" x2="363.9" y2="290.7" stroke="#f7b4b8" stroke-width="5" opacity="0.8" filter="url(#bl05)"/>
<line x1="396.7" y1="309.3" x2="357.6" y2="299.1" stroke="#f7b4b8" stroke-width="5" opacity="0.8" filter="url(#bl05)"/>
<line x1="396.7" y1="314.7" x2="352.0" y2="313.4" stroke="#f7b4b8" stroke-width="5" opacity="0.8" filter="url(#bl05)"/>
<line x1="396.6" y1="320.6" x2="354.6" y2="325.3" stroke="#f7b4b8" stroke-width="5" opacity="0.8" filter="url(#bl05)"/>
<line x1="396.6" y1="327.8" x2="359.1" y2="336.9" stroke="#f7b4b8" stroke-width="5" opacity="0.8" filter="url(#bl05)"/>
<line x1="396.6" y1="333.1" x2="366.3" y2="345.9" stroke="#f7b4b8" stroke-width="5" opacity="0.8" filter="url(#bl05)"/>
<line x1="396.6" y1="340.3" x2="377.9" y2="355.7" stroke="#f7b4b8" stroke-width="5" opacity="0.8" filter="url(#bl05)"/>
<line x1="396.6" y1="347.5" x2="387.4" y2="362.0" stroke="#f7b4b8" stroke-width="5" opacity="0.8" filter="url(#bl05)"/>
<line x1="396.6" y1="357.3" x2="399.6" y2="371.8" stroke="#f7b4b8" stroke-width="5" opacity="0.8" filter="url(#bl05)"/>
<polygon points="397.2,175.2 419.5,186.3 418.7,188.0 426.9,188.4 421.6,182.1 420.8,183.8 398.4,172.6" fill="#4a6ac8" />
<polygon points="397.6,186.7 427.0,195.0 426.4,197.0 434.5,196.2 428.0,191.2 427.5,193.2 398.0,184.9" fill="#4a6ac8" />
<polygon points="397.7,197.7 436.3,202.3 436.1,204.4 443.9,202.3 436.8,198.4 436.5,200.5 397.9,195.9" fill="#4a6ac8" />
<polygon points="397.8,208.2 439.8,208.2 439.8,210.3 447.3,207.3 439.8,204.3 439.8,206.4 397.8,206.4" fill="#4a6ac8" />
<polygon points="397.9,218.6 436.5,214.3 436.8,216.4 443.9,212.6 436.1,210.4 436.3,212.5 397.7,216.8" fill="#4a6ac8" />
<polygon points="398.0,231.5 431.7,224.2 432.2,226.2 438.9,221.7 430.9,220.4 431.3,222.4 397.6,229.7" fill="#4a6ac8" />
<polygon points="398.1,242.3 424.2,231.8 425.0,233.7 430.8,228.1 422.7,228.2 423.5,230.1 397.5,240.7" fill="#4a6ac8" />
<polygon points="398.6,268.8 397.8,259.7 399.9,259.5 396.2,252.3 393.9,260.0 396.0,259.9 396.8,269.0" fill="#4a6ac8" />
<polygon points="398.4,279.5 389.5,266.5 391.2,265.3 384.5,260.8 386.3,268.7 388.0,267.5 397.0,280.5" fill="#4a6ac8" />
<polygon points="398.2,287.6 381.9,275.3 383.2,273.6 375.4,271.5 379.6,278.4 380.8,276.7 397.2,289.0" fill="#4a6ac8" />
<polygon points="398.1,295.2 373.7,281.9 374.7,280.0 366.7,279.1 371.8,285.3 372.8,283.5 397.3,296.8" fill="#4a6ac8" />
<polygon points="398.0,300.7 367.0,289.5 367.7,287.6 359.7,287.9 365.7,293.2 366.4,291.2 397.4,302.3" fill="#4a6ac8" />
<polygon points="397.9,306.2 360.8,297.3 361.3,295.2 353.3,296.4 359.9,301.1 360.4,299.0 397.5,308.0" fill="#4a6ac8" />
<polygon points="397.7,311.6 355.2,310.3 355.3,308.2 347.7,311.0 355.1,314.2 355.2,312.1 397.7,313.4" fill="#4a6ac8" />
<polygon points="397.5,317.5 357.7,321.4 357.5,319.3 350.3,323.0 358.1,325.3 357.9,323.2 397.7,319.3" fill="#4a6ac8" />
<polygon points="397.4,324.7 362.0,332.3 361.5,330.3 354.8,334.8 362.8,336.1 362.4,334.1 397.8,326.5" fill="#4a6ac8" />
<polygon points="397.3,330.1 368.8,340.5 368.1,338.5 362.1,343.9 370.2,344.2 369.4,342.2 397.9,331.7" fill="#4a6ac8" />
<polygon points="397.1,337.4 379.6,349.1 378.4,347.4 373.8,354.0 381.7,352.3 380.6,350.6 398.1,338.8" fill="#4a6ac8" />
<polygon points="396.9,344.7 387.9,354.4 386.4,353.0 383.5,360.6 390.8,357.1 389.3,355.7 398.3,345.9" fill="#4a6ac8" />
<polygon points="396.7,355.0 396.1,363.2 394.0,363.0 396.5,370.7 400.0,363.4 397.9,363.3 398.5,355.2" fill="#4a6ac8" />
<line x1="398" y1="172" x2="398" y2="384" stroke="#111" stroke-width="1.4" stroke-dasharray="2.8,1.7"/>
<polygon points="393.8,382.3 401.6,382.3 397.7,390.2" fill="#000"/>
<path d="M374.8,171.5 C376.9,172.0 383.4,173.5 387.4,174.6 C391.3,175.7 394.1,176.5 398.5,177.8 C402.9,179.1 409.4,180.7 414.0,182.3 C418.6,183.9 422.4,185.5 426.3,187.5 C430.2,189.5 434.4,191.9 437.5,194.5 C440.6,197.1 443.4,200.4 445.0,203.0 C446.6,205.6 447.5,207.1 447.4,209.8 C447.3,212.5 446.7,215.6 444.6,219.3 C442.5,223.0 438.7,228.2 434.7,231.8 C430.7,235.4 425.2,238.0 420.8,240.6 C416.4,243.2 412.0,245.4 408.2,247.5 C404.4,249.6 401.7,250.9 398.0,253.1 C394.3,255.3 390.5,256.9 385.9,260.7 C381.3,264.4 375.0,270.6 370.2,275.6 C365.4,280.6 360.2,285.8 356.8,290.5 C353.4,295.2 351.1,299.9 349.5,303.7 C347.9,307.4 347.3,309.5 347.3,313.0 C347.3,316.5 348.0,320.7 349.3,324.6 C350.6,328.5 352.6,332.5 355.3,336.5 C358.0,340.5 361.7,344.7 365.7,348.4 C369.7,352.1 374.6,355.7 379.1,358.9 C383.6,362.1 388.3,364.8 392.5,367.4 C396.7,370.0 401.2,372.3 404.5,374.3 C407.8,376.3 410.0,377.8 412.5,379.3 C415.0,380.8 418.2,382.7 419.3,383.4" fill="none" stroke="#e2101c" stroke-width="2.1" stroke-linecap="round"/>
<polygon points="417.0,381.9 417.8,382.4 415.8,386.1 427.9,388.0 420.0,378.6 417.9,382.3 417.0,381.9" fill="#e2101c" />
<text x="357.9" y="384.4" textLength="27.2" lengthAdjust="spacingAndGlyphs" style="fill:#67569a;stroke:#67569a">Time</text>
<text x="487" y="181.8" textLength="87" lengthAdjust="spacingAndGlyphs" >Signal process</text>
<text class="eq" x="456.7" y="238.2">d<tspan class="i">I</tspan><tspan dy="3.2" style="font-size:12.5px">rot</tspan><tspan dy="-3.2">(</tspan><tspan class="i">r</tspan>)=</text>
<text class="eq" x="510.3" y="219"><tspan class="i">ϑ</tspan>=2π</text>
<text class="eq" x="510.3" y="261.5"><tspan class="i">ϑ</tspan>=0</text>
<path d="M527.6,223.2 C526.2,221.6 525,222.6 524.8,225.5 L524.2,247.5 C524,250.6 522.8,251.6 521.4,250" fill="none" stroke="#111" stroke-width="0.9"/>
<text class="eq" x="544.5" y="238.2" textLength="59" lengthAdjust="spacingAndGlyphs">(<tspan class="i">I</tspan> − <tspan class="i">I</tspan><tspan dy="2.6" style="font-size:9.5px;font-family:'Liberation Serif',serif">bg</tspan><tspan dy="-2.6">)d</tspan><tspan class="i">ϑ</tspan></text>
<text class="eq" x="439.5" y="295.2">=2π</text>
<path d="M469,282 L466.3,282 L466.3,301.5 L469,301.5" fill="none" stroke="#111" stroke-width="0.9"/>
<path d="M615.6,282 L618.3,282 L618.3,301.5 L615.6,301.5" fill="none" stroke="#111" stroke-width="0.9"/>
<text class="eq" x="470.5" y="295.2" textLength="143.5" lengthAdjust="spacingAndGlyphs">|<tspan class="i">E</tspan><tspan dy="2.6" style="font-size:11px">s</tspan><tspan dy="-2.6">|</tspan><tspan dy="-4.5" style="font-size:12.5px">2</tspan><tspan dy="4.5">+2real(</tspan><tspan class="i">E</tspan><tspan dy="2.6" style="font-size:11px">s</tspan><tspan dy="-2.6">)</tspan><tspan class="i">J</tspan><tspan dy="3" style="font-size:12px">0</tspan><tspan dy="-3">(</tspan><tspan class="i">r</tspan> |<tspan class="i">k</tspan>|)</text>
<polygon points="519.8,318.3 534.8,318.3 534.8,327.8 544.8,327.8 527.3,344 509.8,327.8 519.8,327.8" fill="#fff" stroke="#e01820" stroke-width="1.7" stroke-linejoin="miter"/>
<text class="eq" x="458.6" y="373" textLength="130.5" lengthAdjust="spacingAndGlyphs">d<tspan class="i">I</tspan><tspan dy="3.2" style="font-size:12.5px">rot</tspan><tspan dy="-3.2">(</tspan><tspan class="i">r</tspan>) ∝ cos ( <tspan class="i">ψ</tspan>−<tspan class="i">k</tspan>|<tspan class="i">r</tspan>|)</text>
</g>
<g id="panelD">
<text x="320.3" y="407.3" class="b" >d</text>
<polygon points="390.2,393.6 404.8,393.6 404.8,398.6 414,398.6 397.5,409.2 381,398.6 390.2,398.6" fill="#fdecc4" stroke="#ea8a30" stroke-width="1.6" stroke-linejoin="miter"/>
<rect x="358" y="414.2" width="77.8" height="78.3" fill="#50bdd8"/>
<g clip-path="url(#clipD)"><g mask="url(#maskRing)" filter="url(#bl05)">
<circle cx="397.2" cy="451.4" r="6.40" fill="none" stroke="#a2deec" stroke-width="1.7"/>
<circle cx="397.2" cy="451.4" r="10.07" fill="none" stroke="#a2deec" stroke-width="1.7"/>
<circle cx="397.2" cy="451.4" r="13.74" fill="none" stroke="#a2deec" stroke-width="1.7"/>
<circle cx="397.2" cy="451.4" r="17.41" fill="none" stroke="#a2deec" stroke-width="1.7"/>
<circle cx="397.2" cy="451.4" r="21.08" fill="none" stroke="#a2deec" stroke-width="1.7"/>
<circle cx="397.2" cy="451.4" r="24.75" fill="none" stroke="#a2deec" stroke-width="1.7"/>
<circle cx="397.2" cy="451.4" r="28.42" fill="none" stroke="#a2deec" stroke-width="1.7"/>
<circle cx="397.2" cy="451.4" r="32.09" fill="none" stroke="#a2deec" stroke-width="1.7"/>
<circle cx="397.2" cy="451.4" r="35.76" fill="none" stroke="#a2deec" stroke-width="1.7"/>
<circle cx="397.2" cy="451.4" r="39.43" fill="none" stroke="#a2deec" stroke-width="1.7"/>
<circle cx="397.2" cy="451.4" r="43.10" fill="none" stroke="#a2deec" stroke-width="1.7"/>
<circle cx="397.2" cy="451.4" r="46.77" fill="none" stroke="#a2deec" stroke-width="1.7"/>
<circle cx="397.2" cy="451.4" r="50.44" fill="none" stroke="#a2deec" stroke-width="1.7"/>
<circle cx="397.2" cy="451.4" r="54.11" fill="none" stroke="#a2deec" stroke-width="1.7"/>
<circle cx="397.2" cy="451.4" r="57.78" fill="none" stroke="#a2deec" stroke-width="1.7"/>
<circle cx="397.2" cy="451.4" r="61.45" fill="none" stroke="#a2deec" stroke-width="1.7"/>
</g>
<circle cx="397.2" cy="451.4" r="3" fill="#f4fbfd" filter="url(#bl05)"/><circle cx="397.2" cy="451.4" r="0.9" fill="#e0452a"/>
</g>
<text x="363.4" y="484.7" textLength="67.3" lengthAdjust="spacingAndGlyphs" style="fill:#0f3250;stroke:#0f3250">Final image</text>
<polygon points="527.2,437.8 513.4,466.2 516.5,467.6 529.2,438.8" fill="#4a72c2"/>
<polygon points="527.2,438.8 539.9,467.6 543.0,466.2 529.2,437.8" fill="#4a72c2"/>
<polygon points="527.3,437.3 483.9,476.3 486.9,479.5 529.1,439.3" fill="#4a72c2"/>
<polygon points="527.0,437.8 503.8,486.1 507.8,487.9 529.4,438.8" fill="#4a72c2"/>
<polygon points="526.9,438.3 526.0,488.6 530.4,488.6 529.5,438.3" fill="#4a72c2"/>
<polygon points="527.0,438.8 548.6,487.9 552.6,486.1 529.4,437.8" fill="#4a72c2"/>
<polygon points="527.3,439.3 569.5,479.5 572.5,476.3 529.1,437.3" fill="#4a72c2"/>
<line x1="462.9" x2="596.8" y1="413.5" y2="413.5" stroke="#c0cdec" stroke-width="2.1"/>
<line x1="462.9" x2="596.8" y1="420" y2="420" stroke="#c0cdec" stroke-width="2.1"/>
<line x1="462.9" x2="596.8" y1="425.9" y2="425.9" stroke="#c0cdec" stroke-width="2.1"/>
<line x1="462.9" x2="596.8" y1="431.6" y2="431.6" stroke="#c0cdec" stroke-width="2.1"/>
<rect x="462.9" y="436.2" width="133.9" height="3.2" fill="#4b72a6"/>
<rect x="462.9" y="439.3" width="133.9" height="8.1" fill="#96c8fa"/>
<rect x="462.9" y="447.3" width="133.9" height="3.2" fill="#4b72a6"/>
<ellipse cx="528.2" cy="477.1" rx="42.8" ry="10.7" fill="none" stroke="#e0141e" stroke-width="2.2" stroke-dasharray="6,2.4"/>
<path d="M515.0,422.8 A15.5,9.8 0 1 0 544.8,422.8" fill="none" stroke="#ec93c0" stroke-width="2"/>
<path d="M501.1,427.4 A29,19.3 0 0 0 558.7,427.4" fill="none" stroke="#ec93c0" stroke-width="2"/>
<path d="M490.9,433.1 A40.2,32 0 0 0 568.9,433.1" fill="none" stroke="#ec93c0" stroke-width="2"/>
<path d="M480.4,439.6 A52,46 0 0 0 579.4,439.6" fill="none" stroke="#ec93c0" stroke-width="2"/>
<path d="M469.4,443.9 A63.7,59 0 0 0 590.4,443.9" fill="none" stroke="#ec93c0" stroke-width="2"/>
<ellipse cx="529.9" cy="425.6" rx="8.4" ry="6.6" fill="url(#sph2)"/>
<text x="469.3" y="489" style="font-size:13.5px"><tspan class="i">E</tspan><tspan dy="3" style="font-size:9px">i</tspan></text>
<text x="588.6" y="473.6" style="font-size:13.5px"><tspan class="i">E</tspan><tspan dy="3" style="font-size:9px">s</tspan></text>
</g>
</svg></body></html>
